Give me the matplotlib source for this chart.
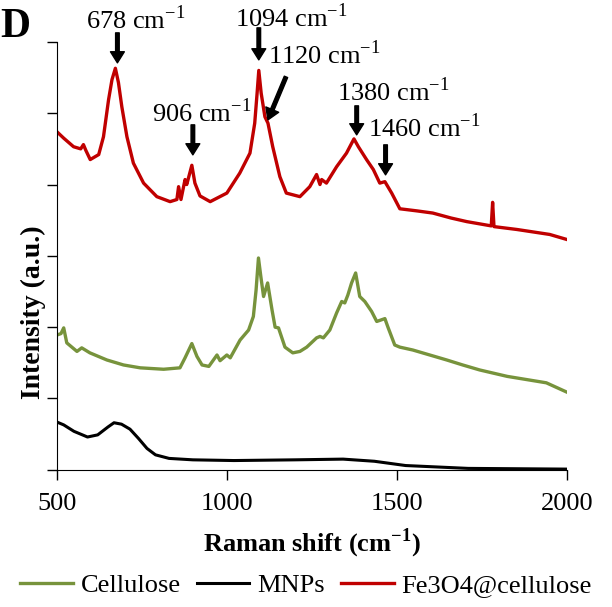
import matplotlib
matplotlib.use("Agg")
import matplotlib.pyplot as plt  # noqa: E402
from matplotlib import rcParams  # noqa: E402

rcParams["font.family"] = "Liberation Serif"
rcParams["font.size"] = 19

# spectra (Raman shift, stacked intensity in a.u.)
red_x = [500, 520, 549, 570, 578, 585, 598, 623, 637, 652, 662, 672, 681, 691, 706, 725,
         755, 794, 833, 853, 858, 865, 877, 882, 897, 906, 921, 951, 1000, 1038, 1068,
         1082, 1089, 1094, 1101, 1112, 1121, 1135, 1156, 1175, 1215, 1244, 1264, 1274,
         1279, 1293, 1323, 1352, 1374, 1387, 1411, 1431, 1450, 1465, 1485, 1509, 1560,
         1606, 1660, 1706, 1778, 1782, 1786, 1853, 1950, 2000]
red_y = [4.74, 4.65, 4.53, 4.50, 4.56, 4.48, 4.35, 4.42, 4.67, 5.19, 5.47, 5.63, 5.43,
         5.09, 4.67, 4.30, 4.02, 3.83, 3.76, 3.79, 3.97, 3.79, 4.07, 4.00, 4.27, 4.02,
         3.84, 3.76, 3.88, 4.16, 4.44, 4.86, 5.28, 5.60, 5.28, 4.95, 4.86, 4.53, 4.11,
         3.88, 3.83, 3.97, 4.14, 4.00, 4.07, 4.02, 4.25, 4.44, 4.64, 4.53, 4.35, 4.21,
         4.02, 4.04, 3.88, 3.66, 3.63, 3.60, 3.53, 3.48, 3.42, 3.75, 3.41, 3.37, 3.30,
         3.23]

green_x = [500, 512, 520, 529, 559, 573, 597, 647, 696, 745, 814, 862, 877, 897, 912, 927,
           947, 971, 980, 1000, 1010, 1039, 1064, 1078, 1086, 1093, 1100, 1108, 1120,
           1133, 1142, 1152, 1171, 1194, 1215, 1235, 1264, 1274, 1284, 1303, 1323, 1338,
           1347, 1356, 1367, 1379, 1391, 1406, 1426, 1441, 1465, 1474, 1494, 1509, 1547,
           1597, 1647, 1694, 1744, 1825, 1940, 2000]
green_y = [1.89, 1.91, 1.99, 1.78, 1.66, 1.71, 1.64, 1.54, 1.47, 1.43, 1.41, 1.43, 1.57,
           1.77, 1.59, 1.47, 1.45, 1.61, 1.53, 1.61, 1.57, 1.82, 1.96, 2.15, 2.52, 2.97,
           2.71, 2.43, 2.62, 2.24, 2.00, 1.99, 1.72, 1.64, 1.66, 1.72, 1.85, 1.87, 1.85,
           1.96, 2.20, 2.36, 2.34, 2.45, 2.62, 2.76, 2.43, 2.36, 2.22, 2.08, 2.12, 2.00,
           1.75, 1.72, 1.68, 1.61, 1.54, 1.47, 1.40, 1.31, 1.22, 1.09]

black_x = [500, 520, 550, 590, 620, 650, 668, 690, 715, 740, 765, 790, 830, 900, 1021,
           1200, 1342, 1434, 1526, 1710, 2000]
black_y = [0.67, 0.63, 0.54, 0.46, 0.49, 0.60, 0.66, 0.64, 0.57, 0.44, 0.30, 0.21, 0.16,
           0.14, 0.13, 0.14, 0.15, 0.12, 0.06, 0.02, 0.01]

peaks = [678, 906, 1094, 1120, 1380, 1460]

fig = plt.figure(figsize=(6.12, 6.07), dpi=100)
ax = fig.add_axes([0.093, 0.226, 0.833, 0.705])

ax.plot(green_x, green_y, color="#77933C", lw=2.4, label="Cellulose")
ax.plot(black_x, black_y, color="black", lw=2.2, label="MNPs")
ax.plot(red_x, red_y, color="#C00000", lw=2.4, label="Fe3O4@cellulose")

ax.set_xlim(500, 2000)
ax.set_ylim(0, 6)
ax.set_xticks([500, 1000, 1500, 2000])
ax.set_yticks(range(7))
ax.set_yticklabels([])
ax.tick_params(direction="out", length=7, width=1, labelsize=19, pad=10)
ax.spines["top"].set_visible(False)
ax.spines["right"].set_visible(False)

ax.set_xlabel(r"Raman shift (cm$^{\mathregular{-1}}$)", fontweight="bold", fontsize=19, labelpad=8)
fig.text(0.055, 0.485, "Intensity (a.u.)", rotation=90, fontweight="bold",
         fontsize=20, ha="center", va="center")
fig.text(0.0, 0.955, "D", fontweight="bold", fontsize=30, ha="left", va="center")


def py(p):
    # pixel row in the reference -> data units
    return (470 - p) / 71.33


# (text x, text row, arrow tail x, tail row, head x, head row)
layout = {
    678: (733, 20, 678, 33, 678, 63),
    906: (926, 113, 900, 125, 900, 155),
    1094: (1188, 18, 1094, 28, 1094, 60),
    1120: (1288, 55, 1174, 77, 1121, 120),
    1380: (1491, 92, 1382, 106, 1382, 135),
    1460: (1582, 128, 1467, 145, 1467, 175),
}
for pk in peaks:
    tx, ty, ax0, ay0, ax1, ay1 = layout[pk]
    ax.text(tx, py(ty), f"{pk} cm$^{{\\mathregular{{-1}}}}$", ha="center", va="center",
            fontsize=19, clip_on=False)
    ax.annotate("", xy=(ax1, py(ay1)), xytext=(ax0, py(ay0)), annotation_clip=False,
                arrowprops=dict(facecolor="black", edgecolor="black", width=2.6,
                                headwidth=10, headlength=8, shrink=0))

fig.legend(loc="center", bbox_to_anchor=(0.5, 0.036), ncol=3, frameon=False,
           fontsize=19, handlelength=2.0, handletextpad=0.3, columnspacing=0.6)

fig.savefig("out.png", dpi=100)
